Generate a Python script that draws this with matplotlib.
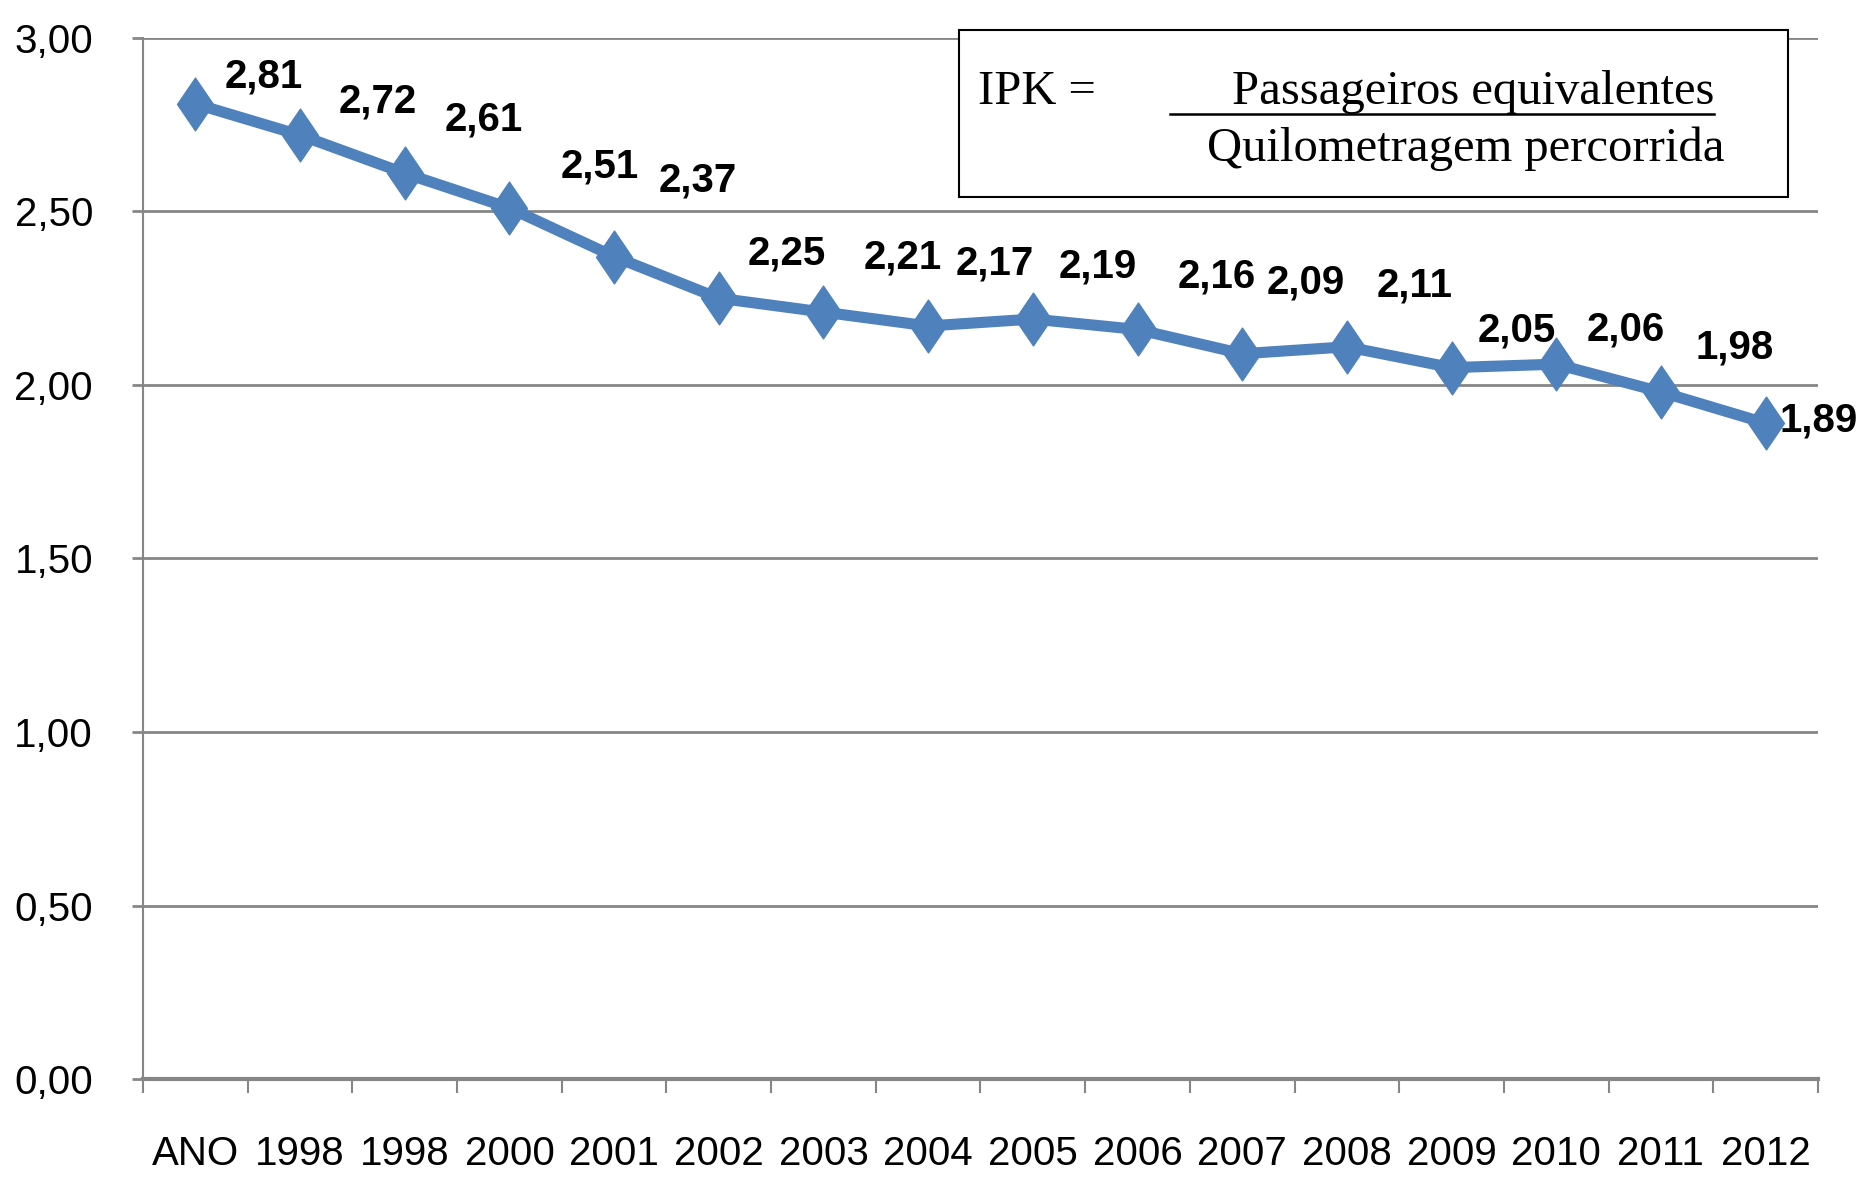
import matplotlib
matplotlib.use("Agg")
import matplotlib.pyplot as plt
import matplotlib.patches as patches
from matplotlib.path import Path

# data
categories = ["ANO", "1998", "1998", "2000", "2001", "2002", "2003", "2004",
              "2005", "2006", "2007", "2008", "2009", "2010", "2011", "2012"]
ipk = [2.81, 2.72, 2.61, 2.51, 2.37, 2.25, 2.21, 2.17,
       2.19, 2.16, 2.09, 2.11, 2.05, 2.06, 1.98, 1.89]
y_ticks = [0.0, 0.5, 1.0, 1.5, 2.0, 2.5, 3.0]

# label offsets (points) from each marker
label_offsets = [(49, 20), (56, 24), (57, 39), (65, 30), (60, 55), (49, 32),
                 (57, 39), (48, 45), (47, 38), (57, 38), (46, 51), (49, 44),
                 (47, 27), (50, 25), (53, 32), (38, 2)]

sans = ["Liberation Sans", "DejaVu Sans"]
serif = ["Liberation Serif", "DejaVu Serif"]
blue = "#4F81BD"
grey = "#868686"

fig = plt.figure(figsize=(18.63, 11.79), dpi=100)
ax = fig.add_axes([0.0768, 0.0848, 0.899, 0.883])

x = list(range(len(categories)))
diamond = Path([(0, 1), (0.68, 0), (0, -1), (-0.68, 0), (0, 1)],
               [Path.MOVETO, Path.LINETO, Path.LINETO, Path.LINETO, Path.CLOSEPOLY])
ax.plot(x, ipk, color=blue, lw=8, marker=diamond, markersize=38,
        markerfacecolor=blue, markeredgecolor=blue, zorder=3, clip_on=False)

for xi, v, (dx, dy) in zip(x, ipk, label_offsets):
    ax.annotate(f"{v:.2f}".replace(".", ","), (xi, v), xytext=(dx, dy),
                textcoords="offset points", ha="center", va="center",
                fontsize=29, fontweight="bold", family=sans, zorder=4)

ax.set_xlim(-0.5, len(categories) - 0.5)
ax.set_ylim(0, 3.0)
ax.set_yticks(y_ticks)
ax.set_yticklabels([f"{t:.2f}".replace(".", ",") for t in y_ticks],
                   fontsize=29, family=sans)
ax.set_xticks(x)
ax.set_xticklabels(categories, fontsize=29, family=sans)
ax.tick_params(axis="x", length=0, pad=40)
ax.set_xticks([i - 0.5 for i in range(len(categories) + 1)], minor=True)
ax.tick_params(axis="x", which="minor", length=10, width=1.5, color=grey)
ax.tick_params(axis="y", length=8, width=2, color=grey, pad=28)

ax.grid(axis="y", color=grey, lw=2)
ax.set_axisbelow(True)
for s in ["top", "right"]:
    ax.spines[s].set_visible(False)
ax.spines["left"].set_color(grey)
ax.spines["left"].set_linewidth(1.5)
ax.spines["bottom"].set_color(grey)
ax.spines["bottom"].set_linewidth(3)

# formula box
box = patches.Rectangle((0.515, 0.833), 0.445, 0.1416, transform=fig.transFigure,
                        fc="white", ec="black", lw=1.5, zorder=5)
fig.patches.append(box)
fig.text(0.525, 0.922, "IPK =", fontsize=35, family=serif, va="center", ha="left", zorder=6)
fig.text(0.791, 0.922, "Passageiros equivalentes", fontsize=35, family=serif,
         va="center", ha="center", zorder=6)
fig.add_artist(plt.Line2D([0.628, 0.920], [0.903, 0.903], transform=fig.transFigure,
                          color="black", lw=1.8, zorder=6))
fig.text(0.787, 0.874, "Quilometragem percorrida", fontsize=35, family=serif,
         va="center", ha="center", zorder=6)

fig.savefig("out.png", dpi=100)
